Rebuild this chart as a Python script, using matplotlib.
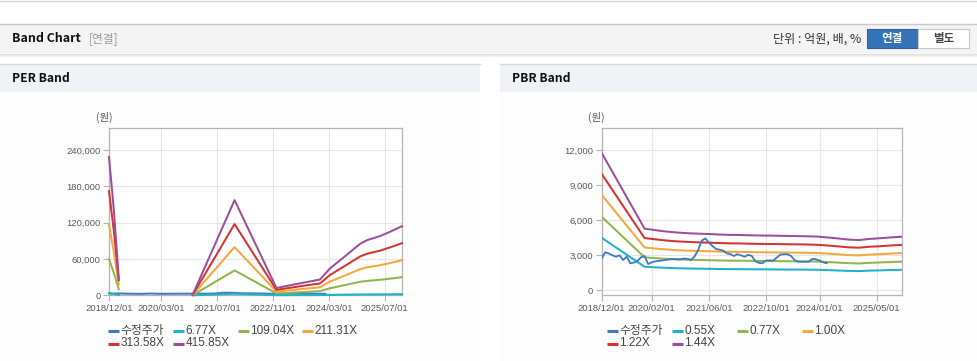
import matplotlib
matplotlib.use("Agg")
import matplotlib.pyplot as plt
from matplotlib.patches import Rectangle
from matplotlib.lines import Line2D
import numpy as np

plt.rcParams['font.family'] = ['Liberation Sans', 'Noto Sans CJK KR']

# ---------------- data ----------------
per_tick_pos = [0, 15, 31, 47, 63, 79]
per_tick_labels = ['2018/12/01', '2020/03/01', '2021/07/01', '2022/11/01', '2024/03/01', '2025/07/01']
per_yticks = [0, 60000, 120000, 180000, 240000]

per_band_x = [0, 1.4, 2.8, 3.0, 24, 36, 48, 55, 60.5, 63.3, 68, 72, 74, 77.6, 80.5, 84]
per_6_77 = [3700, 2300, 500, np.nan, 16, 2560, 200, 330, 420, 720, 1080, 1390, 1480, 1590, 1700, 1860]
per_109_04 = [59700, 36700, 10000, np.nan, 260, 41000, 3100, 5200, 6800, 11500, 17300, 22300, 23800, 25500, 27400, 29900]
per_211_31 = [116000, 71000, 18000, np.nan, 500, 79500, 6100, 10200, 13200, 22400, 33500, 43200, 46200, 49500, 53100, 57900]
per_313_58 = [172000, 105500, 25000, np.nan, 750, 117500, 9000, 15100, 19600, 33200, 49800, 64100, 68600, 73500, 78900, 86000]
per_415_85 = [228000, 140000, 28000, np.nan, 1000, 157000, 12000, 20000, 26000, 44000, 66000, 85000, 91000, 97500, 104600, 114000]

per_price_x = [0, 3, 6, 9, 12, 15, 18, 21, 24, 27, 30, 33, 35, 38, 41, 44, 47, 50, 53, 56, 59, 62]
per_price = [2740, 3000, 2600, 2400, 2900, 2450, 2600, 2680, 2700, 2650, 2900, 4250, 4100, 3400, 3100, 2950, 2450, 2550, 3000, 2900, 2450, 2400]

pbr_tick_pos = [0, 14, 30, 46, 61, 77]
pbr_tick_labels = ['2018/12/01', '2020/02/01', '2021/06/01', '2022/10/01', '2024/01/01', '2025/05/01']
pbr_yticks = [0, 3000, 6000, 9000, 12000]

pbr_band_x = [0, 12, 15, 18, 21, 24, 27, 30, 33, 36, 39, 42, 45, 48, 51, 54, 57, 60, 63, 66, 69, 72, 75, 78, 81, 84]
pbr_0_55 = [4500, 2020, 1970, 1925, 1890, 1870, 1855, 1845, 1825, 1815, 1810, 1800, 1795, 1790, 1780, 1775, 1770, 1760, 1735, 1700, 1660, 1645, 1685, 1705, 1735, 1755]
pbr_0_77 = [6300, 2825, 2755, 2695, 2650, 2620, 2595, 2580, 2555, 2540, 2535, 2520, 2510, 2505, 2495, 2485, 2480, 2465, 2425, 2380, 2325, 2300, 2355, 2385, 2425, 2455]
pbr_1_00 = [8180, 3670, 3580, 3500, 3440, 3400, 3370, 3350, 3320, 3300, 3290, 3270, 3260, 3250, 3240, 3230, 3220, 3200, 3150, 3090, 3020, 2990, 3060, 3100, 3150, 3190]
pbr_1_22 = [9980, 4475, 4370, 4270, 4195, 4150, 4110, 4085, 4050, 4025, 4015, 3990, 3975, 3965, 3955, 3940, 3930, 3905, 3845, 3770, 3685, 3650, 3735, 3780, 3845, 3890]
pbr_1_44 = [11780, 5285, 5155, 5040, 4955, 4895, 4855, 4825, 4780, 4750, 4740, 4710, 4695, 4680, 4665, 4650, 4635, 4610, 4535, 4450, 4350, 4305, 4405, 4465, 4535, 4595]

pbr_price = [2740, 3260, 3150, 3000, 2880, 3000, 2600, 2880, 2310, 2380,
             2500, 2830, 2940, 2250, 2400, 2480, 2520, 2560, 2600, 2650,
             2680, 2660, 2650, 2720, 2700, 2600, 2900, 3450, 4250, 4450,
             4100, 3800, 3550, 3480, 3400, 3170, 3100, 2940, 3090, 3000,
             2880, 3030, 2950, 2500, 2350, 2310, 2550, 2570, 2540, 2800,
             3050, 3090, 3090, 2950, 2600, 2450, 2450, 2450, 2450, 2700,
             2650, 2550, 2400, 2310]

per_legend = ['수정주가', '6.77X', '109.04X', '211.31X', '313.58X', '415.85X']
pbr_legend = ['수정주가', '0.55X', '0.77X', '1.00X', '1.22X', '1.44X']

colors = ['#3d79c2', '#1fb2c9', '#8fb54c', '#f4a73a', '#d4332f', '#9a4f9c']

# ---------------- figure ----------------
W, H = 978, 361
fig = plt.figure(figsize=(W / 100, H / 100), dpi=100)
fig.patch.set_facecolor('white')


def rect(x0, y0, x1, y1, fc, ec='none', lw=0, z=0):
    r = Rectangle((x0 / W, 1 - y1 / H), (x1 - x0) / W, (y1 - y0) / H,
                  transform=fig.transFigure, facecolor=fc, edgecolor=ec, linewidth=lw, zorder=z)
    fig.add_artist(r)


def hline(x0, x1, y, c, lw=1.0, z=1):
    fig.add_artist(Line2D([x0 / W, x1 / W], [1 - y / H, 1 - y / H], transform=fig.transFigure,
                          color=c, linewidth=lw, zorder=z))


def text(x, y, s, **kw):
    fig.text(x / W, 1 - y / H, s, **kw)


# top lines and header band
hline(0, W, 0.5, '#d6d6d6', 1.0)
rect(0, 24, W, 53, '#f4f4f4')
hline(0, W, 23.5, '#c9c9c9', 1.0)
hline(0, W, 53.5, '#dcdcdc', 1.0)
hline(0, W, 54.5, '#e9e9e9', 1.0)
hline(0, W, 55.5, '#f3f3f3', 1.0)

text(12, 39, 'Band Chart', fontsize=8.9, fontweight='bold', color='#111111',
     family=['Noto Sans CJK KR'], va='center', ha='left')
text(89, 39, '[연결]', fontsize=8.5, color='#9a9a9a',
     family=['Noto Sans CJK KR'], va='center', ha='left')
text(861, 39, '단위 : 억원, 배, %', fontsize=8.7, color='#333333',
     family=['Noto Sans CJK KR', 'DejaVu Sans'], va='center', ha='right')

# buttons
rect(867, 29, 918, 48, '#3473b7', ec='#2c62a0', lw=0.8, z=2)
rect(918, 29, 969, 48, '#ffffff', ec='#c8c8c8', lw=0.8, z=2)
text(892.5, 38.5, '연결', fontsize=8.3, color='white', fontweight='bold',
     family=['Noto Sans CJK KR'], va='center', ha='center', zorder=3)
text(943.5, 38.5, '별도', fontsize=8.3, color='#444444', fontweight='bold',
     family=['Noto Sans CJK KR'], va='center', ha='center', zorder=3)

# panel headers
for (px0, px1, title) in [(0, 480, 'PER Band'), (500, 978, 'PBR Band')]:
    rect(px0, 64, px1, 92, '#eff2f7')
    hline(px0, px1, 64, '#d9d9d9', 1.0)
    rect(px0, 92, px1, 361, '#fdfdfd')
    text(px0 + 12, 78.5, title, fontsize=8.7, fontweight='bold', color='#111111',
         family=['Noto Sans CJK KR'], va='center', ha='left')


def style_axes(ax, xticks, xlabels, yticks, xlim, ylim):
    ax.set_facecolor('white')
    ax.set_xlim(*xlim)
    ax.set_ylim(*ylim)
    ax.set_xticks(xticks)
    ax.set_xticklabels(xlabels)
    ax.set_yticks(yticks)
    ax.set_yticklabels([f'{v:,}' for v in yticks])
    ax.grid(True, color='#e6e6e6', linewidth=0.8)
    ax.set_axisbelow(True)
    for s in ax.spines.values():
        s.set_color('#b4b4b4')
        s.set_linewidth(0.9)
    ax.tick_params(axis='both', colors='#b4b4b4', labelcolor='#5a5a5a', labelsize=6.8,
                   length=4, width=0.8, pad=2)


# PER axes
ax1 = fig.add_axes([109 / W, 1 - 295.3 / H, 293 / W, 167 / H])
style_axes(ax1, per_tick_pos, per_tick_labels, per_yticks, (0, 84), (0, 275500))
per_series = [per_6_77, per_109_04, per_211_31, per_313_58, per_415_85]
ax1.plot(per_price_x, per_price, color=colors[0], lw=1.45, zorder=3)
for i, s in enumerate(per_series):
    ax1.plot(per_band_x, s, color=colors[i + 1], lw=1.45, zorder=3 + i, clip_on=False)

# PBR axes
ax2 = fig.add_axes([601.7 / W, 1 - 295.3 / H, 300 / W, 167 / H])
style_axes(ax2, pbr_tick_pos, pbr_tick_labels, pbr_yticks, (0, 84), (-430, 13890))
pbr_series = [pbr_0_55, pbr_0_77, pbr_1_00, pbr_1_22, pbr_1_44]
for i, s in enumerate(pbr_series):
    ax2.plot(pbr_band_x, s, color=colors[i + 1], lw=1.45, zorder=3 + i)
ax2.plot(range(len(pbr_price)), pbr_price, color=colors[0], lw=1.3, zorder=10)

# unit labels
text(104, 117, '(원)', fontsize=7.5, color='#555555', family=['Noto Sans CJK KR'], va='center', ha='center')
text(596, 117, '(원)', fontsize=7.5, color='#555555', family=['Noto Sans CJK KR'], va='center', ha='center')


# legends
def legend(xs, labels):
    rows = [330.7, 343.5]
    for i, lab in enumerate(labels):
        r = i // 4
        c = i % 4
        x0 = xs[c]
        y = rows[r]
        fig.add_artist(Line2D([x0 / W, (x0 + 11) / W], [1 - y / H, 1 - y / H], transform=fig.transFigure,
                              color=colors[i], linewidth=2.2, solid_capstyle='butt'))
        text(x0 + 12.5, y, lab, fontsize=8.5, color='#444444',
             family=['Liberation Sans', 'Noto Sans CJK KR'], va='center', ha='left')


legend([108, 172.7, 237.7, 302], per_legend)
legend([606.7, 672, 736.7, 801.7], pbr_legend)

fig.savefig('out.png', dpi=100)
